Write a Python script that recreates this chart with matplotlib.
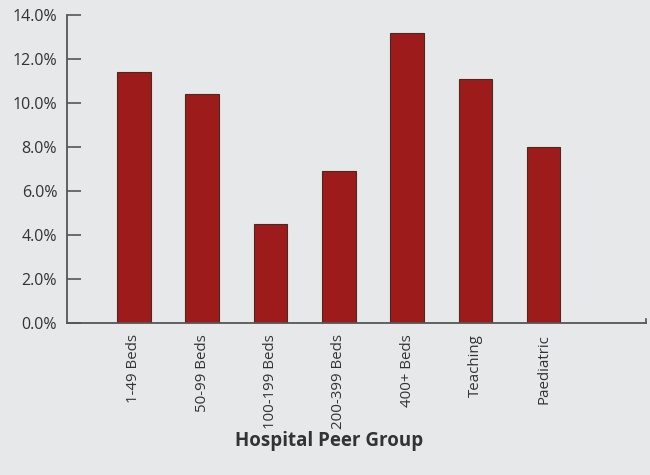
import matplotlib
matplotlib.use("Agg")
import matplotlib.pyplot as plt
import numpy as np

# datos
groups = ["1-49 Beds", "50-99 Beds", "100-199 Beds", "200-399 Beds", "400+ Beds", "Teaching", "Paediatric"]
rates = [11.4, 10.4, 4.5, 6.9, 13.2, 11.1, 8.0]
yticks = [0, 2, 4, 6, 8, 10, 12, 14]

plt.rcParams['font.family'] = ['Open Sans', 'DejaVu Sans']
bg = '#e6e8ea'
txt = '#333333'

fig = plt.figure(figsize=(6.5, 4.75), dpi=100, facecolor=bg)
ax = fig.add_axes([0.103, 0.32, 0.891, 0.648], facecolor=bg)

x = np.arange(len(groups))
ax.bar(x, rates, width=0.49, color='#9e1b1b', edgecolor='#4a2a20', linewidth=0.8, zorder=2)

ax.set_xlim(-0.98, 7.5)
ax.set_ylim(0, 14)
ax.set_yticks(yticks)
ax.set_yticklabels(["%.1f%%" % v for v in yticks], fontsize=11.5, color=txt)
ax.set_xticks(x)
ax.set_xticklabels(groups, rotation=90, fontsize=10.8, color=txt)

ax.tick_params(axis='y', direction='in', length=10, width=1.2, color='#555555', pad=7)
ax.tick_params(axis='x', length=0, pad=8)

for s in ['top', 'right']:
    ax.spines[s].set_visible(False)
for s in ['left', 'bottom']:
    ax.spines[s].set_color('#555555')
    ax.spines[s].set_linewidth(1.3)
# pequeña marca al final del eje x
ax.plot([7.5, 7.5], [0, 0.2], color='#555555', lw=1.2, clip_on=False)

fig.text(0.506, 0.072, "Hospital Peer Group", ha='center', va='center',
         fontsize=13.5, fontweight='bold', color=txt)

fig.savefig('out.png', dpi=100, facecolor=bg)
